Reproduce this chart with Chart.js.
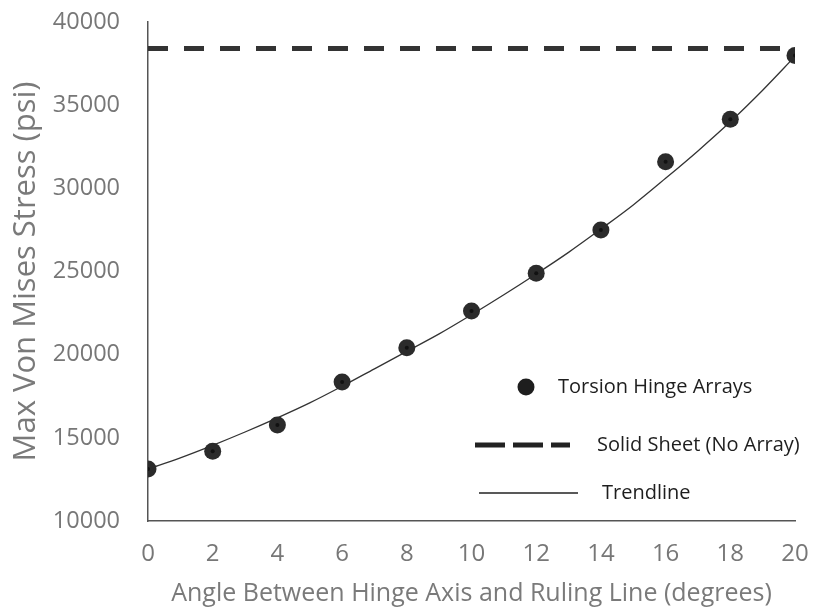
<!DOCTYPE html>
<html>
<head>
<meta charset="utf-8">
<script src="https://cdn.jsdelivr.net/npm/chart.js@4/dist/chart.umd.min.js"></script>
<style>
html,body{margin:0;padding:0;background:#fff;}
#wrap{position:relative;width:814px;height:612px;}
</style>
</head>
<body>
<div id="wrap"><canvas id="c" width="814" height="612"></canvas></div>
<script>
// ---- data ----
const angles = [0, 2, 4, 6, 8, 10, 12, 14, 16, 18, 20];
const hingeStress = [13130, 14190, 15770, 18360, 20420, 22630, 24900, 27500, 31600, 34150, 37980];
const solidSheetX = [0, 20];
const solidSheetStress = [38400, 38400];
const trendX = [0, 1, 2, 3, 4, 5, 6, 7, 8, 9, 10, 11, 12, 13, 14, 15, 16, 17, 18, 19, 20];
const trendStress = [13130, 13800, 14550, 15350, 16200, 17100, 18100, 19150, 20200, 21250, 22400, 23600, 24850, 26150, 27550, 29000, 30600, 32250, 34000, 35900, 37930];
const xTickLabels = [0, 2, 4, 6, 8, 10, 12, 14, 16, 18, 20];
const yTickLabels = [10000, 15000, 20000, 25000, 30000, 35000, 40000];
const seriesNames = ['Torsion Hinge Arrays', 'Solid Sheet (No Array)', 'Trendline'];
const xTitle = 'Angle Between Hinge Axis and Ruling Line (degrees)';
const yTitle = 'Max Von Mises Stress (psi)';

const FONT = "'Open Sans', 'DejaVu Sans', sans-serif";
const toPts = (xs, ys) => xs.map((x, i) => ({x: x, y: ys[i]}));

const legendPlugin = {
  id: 'customLegend',
  afterDraw(chart) {
    const ctx = chart.ctx;
    ctx.save();
    ctx.font = "20px " + FONT;
    ctx.fillStyle = '#1e1e1e';
    ctx.textBaseline = 'middle';
    ctx.textAlign = 'left';
    ctx.beginPath();
    ctx.arc(526, 387, 8.5, 0, Math.PI * 2);
    ctx.fill();
    ctx.fillText(seriesNames[0], 558, 387);
    ctx.strokeStyle = '#222';
    ctx.lineWidth = 5;
    ctx.setLineDash([30, 8]);
    ctx.beginPath();
    ctx.moveTo(475, 445);
    ctx.lineTo(570, 445);
    ctx.stroke();
    ctx.fillText(seriesNames[1], 597, 445);
    ctx.setLineDash([]);
    ctx.lineWidth = 1.3;
    ctx.beginPath();
    ctx.moveTo(479, 493);
    ctx.lineTo(578, 493);
    ctx.stroke();
    ctx.fillText(seriesNames[2], 602, 493);
    ctx.restore();
  }
};

new Chart(document.getElementById('c'), {
  type: 'scatter',
  data: {
    datasets: [
      {
        label: seriesNames[1],
        data: toPts(solidSheetX, solidSheetStress),
        showLine: true,
        borderColor: '#333333',
        borderWidth: 5,
        borderDash: [20, 16],
        pointRadius: 0,
        order: 3
      },
      {
        label: seriesNames[2],
        data: toPts(trendX, trendStress),
        showLine: true,
        borderColor: '#333333',
        borderWidth: 1.3,
        cubicInterpolationMode: 'monotone',
        pointRadius: 0,
        order: 2
      },
      {
        label: seriesNames[0],
        data: toPts(angles, hingeStress),
        showLine: false,
        backgroundColor: '#2b2b2b',
        borderColor: '#2b2b2b',
        borderWidth: 0,
        pointRadius: 8.5,
        pointHoverRadius: 8.5,
        order: 1
      },
      {
        label: 'core',
        data: toPts(angles, hingeStress),
        showLine: false,
        backgroundColor: '#111111',
        borderWidth: 0,
        pointRadius: 2,
        order: 0
      }
    ]
  },
  options: {
    responsive: false,
    animation: false,
    devicePixelRatio: 1,
    layout: {padding: {left: 0, right: 19, top: 22, bottom: 0}},
    plugins: {legend: {display: false}, tooltip: {enabled: false}},
    scales: {
      x: {
        type: 'linear',
        min: 0, max: 20,
        afterBuildTicks: s => { s.ticks = xTickLabels.map(v => ({value: v})); },
        afterFit: s => { s.height = 612 - 521; s.paddingLeft = 0; s.paddingRight = 0; },
        grid: {display: false, drawTicks: false},
        border: {display: true, color: '#555555', width: 1.5},
        ticks: {
          color: '#777777',
          font: {family: FONT, size: 24},
          padding: 19,
          maxRotation: 0,
          callback: v => String(v)
        },
        title: {
          display: true,
          text: xTitle,
          color: '#7a7a7a',
          font: {family: FONT, size: 25},
          padding: {top: 0, bottom: 3}
        }
      },
      y: {
        min: 10000, max: 40000,
        afterBuildTicks: s => { s.ticks = yTickLabels.map(v => ({value: v})); },
        afterFit: s => { s.width = 148; s.paddingTop = 0; s.paddingBottom = 0; },
        grid: {display: false, drawTicks: false},
        border: {display: true, color: '#555555', width: 1.5},
        ticks: {
          color: '#777777',
          font: {family: FONT, size: 23.5},
          padding: 28,
          callback: v => String(v)
        },
        title: {
          display: true,
          text: yTitle,
          color: '#7a7a7a',
          font: {family: FONT, size: 31},
          padding: {top: 8, bottom: 0}
        }
      }
    }
  },
  plugins: [legendPlugin]
});
</script>
</body>
</html>
